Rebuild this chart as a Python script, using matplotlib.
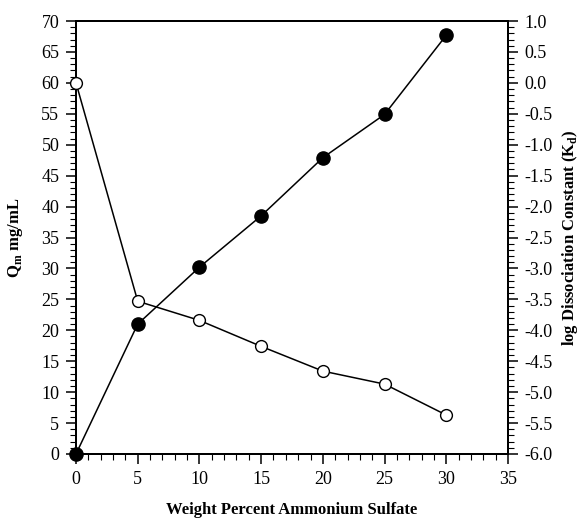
import matplotlib
matplotlib.use("Agg")
import matplotlib.pyplot as plt
from matplotlib.ticker import MultipleLocator, FormatStrFormatter

plt.rcParams['font.family'] = ['Liberation Serif', 'DejaVu Serif']
plt.rcParams['mathtext.fontset'] = 'custom'
plt.rcParams['mathtext.rm'] = 'Liberation Serif'
plt.rcParams['mathtext.bf'] = 'Liberation Serif:bold'

wt_percent = [0, 5, 10, 15, 20, 25, 30]
qm_values = [0.0, 21.0, 30.2, 38.5, 47.9, 54.9, 67.7]
log_kd = [0.0, -3.53, -3.84, -4.26, -4.66, -4.87, -5.37]

fig = plt.figure(figsize=(5.82, 5.18), dpi=100)
ax = fig.add_axes([76 / 582, 64 / 518, 432 / 582, 433 / 518])
ax2 = ax.twinx()

ax.plot(wt_percent, qm_values, '-', color='black', lw=1.1, marker='o', ms=9.5,
        mfc='black', mec='black', clip_on=False, zorder=5)
ax2.plot(wt_percent, log_kd, '-', color='black', lw=1.1, marker='o', ms=8.5,
         mfc='white', mec='black', mew=1.0, clip_on=False, zorder=5)

ax.set_xlim(0, 35)
ax.set_ylim(0, 70)
ax2.set_ylim(-6.0, 1.0)

ax.xaxis.set_major_locator(MultipleLocator(5))
ax.xaxis.set_minor_locator(MultipleLocator(1))
ax.yaxis.set_major_locator(MultipleLocator(5))
ax.yaxis.set_minor_locator(MultipleLocator(1))
ax2.yaxis.set_major_locator(MultipleLocator(0.5))
ax2.yaxis.set_minor_locator(MultipleLocator(0.1))
ax2.yaxis.set_major_formatter(FormatStrFormatter('%.1f'))

for a in (ax, ax2):
    for s in a.spines.values():
        s.set_linewidth(1.4)
    a.tick_params(which='major', direction='out', length=7, width=1.1, labelsize=13, pad=5)
    a.tick_params(which='minor', direction='out', length=4, width=0.8)

ax.set_xlabel('Weight Percent Ammonium Sulfate', fontsize=12, fontweight='bold', labelpad=10)
ax.set_ylabel(r'Q$_\mathbf{m}$ mg/mL', fontsize=12, fontweight='bold', labelpad=12)
ax2.set_ylabel(r'log Dissociation Constant (K$_\mathbf{d}$)', fontsize=12, fontweight='bold', labelpad=5)

fig.savefig('out.png', dpi=100)
